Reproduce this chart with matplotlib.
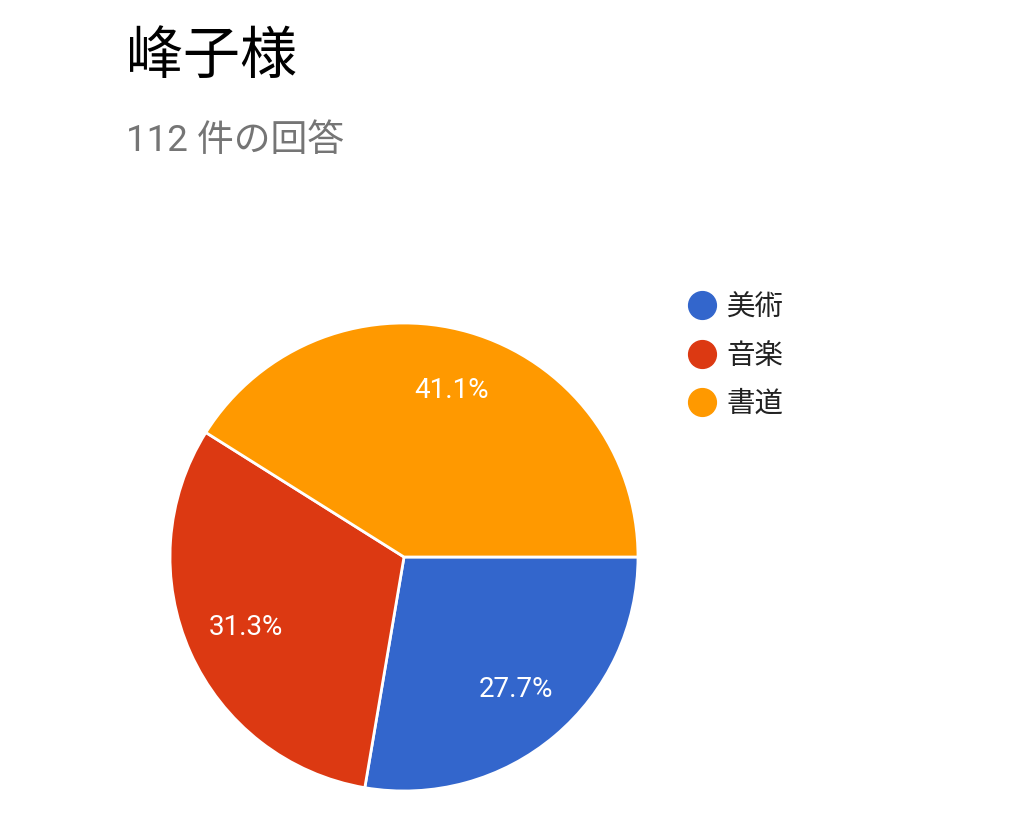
import math
import matplotlib.pyplot as plt
from matplotlib.lines import Line2D

plt.rcParams['font.family'] = ['Roboto', 'Noto Sans CJK JP', 'DejaVu Sans']

# Data
title = '峰子様'
subtitle = '112 件の回答'
labels = ['美術', '音楽', '書道']
counts = [31, 35, 46]
colors = ['#3366CC', '#DC3912', '#FF9900']


def pct_label(p):
    # round half up, like the original chart (35/112 -> 31.3%)
    return '%.1f%%' % (math.floor(p * 10 + 0.5 + 1e-9) / 10)


fig = plt.figure(figsize=(10.24, 8.3), dpi=100)

# Pie axes: centre ~ (404, 557) px, radius ~234 px
r_px = 234
lim = 1.05
side = 2 * r_px * lim
ax = fig.add_axes([(404 - r_px * lim) / 1024, (830 - 557 - r_px * lim) / 830,
                   side / 1024, side / 830])

wedges, texts, autotexts = ax.pie(
    counts, colors=colors, startangle=0, counterclock=False,
    autopct=pct_label, pctdistance=0.74,
    wedgeprops=dict(edgecolor='white', linewidth=2),
    textprops=dict(color='white', fontsize=20))
ax.set_xlim(-lim, lim)
ax.set_ylim(-lim, lim)
ax.set_aspect('equal')
ax.axis('off')

# Title and subtitle
fig.text(126 / 1024, 1 - 57 / 830, title, fontsize=41, color='black',
         va='center', ha='left')
fig.text(126 / 1024, 1 - 141 / 830, subtitle, fontsize=26.5, color='#757575',
         va='center', ha='left')

# Legend
handles = [Line2D([0], [0], marker='o', linestyle='none', markersize=20,
                  markerfacecolor=c, markeredgecolor=c) for c in colors]
fig.legend(handles, labels, loc='upper left',
           bbox_to_anchor=(671 / 1024, 1 - 280 / 830),
           frameon=False, fontsize=20.5, labelcolor='#222222',
           handletextpad=0.25, labelspacing=0.75, borderpad=0,
           handlelength=1.2)

fig.savefig('out.png', dpi=100, facecolor='white')
